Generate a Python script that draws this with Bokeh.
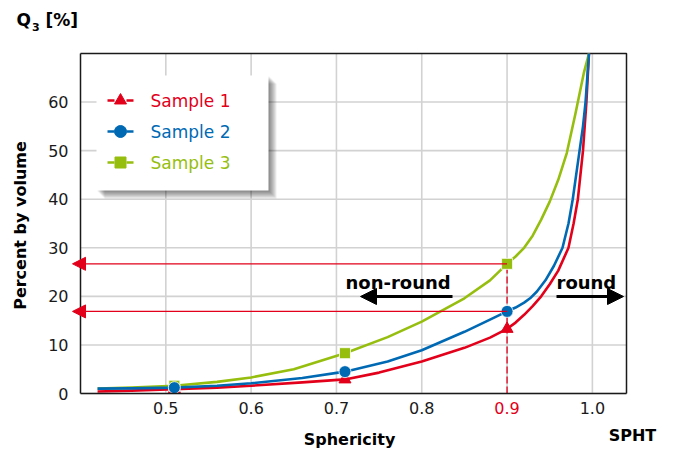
import math
from bokeh.plotting import figure
from bokeh.models import (Range1d, FixedTicker, Label, BoxAnnotation, Arrow, NormalHead, LinearAxis)
from bokeh.embed import file_html
from bokeh.resources import INLINE

# ---------------- data ----------------
x_ticks = [0.5, 0.6, 0.7, 0.8, 0.9, 1.0]
x_tick_labels = ["0.5", "0.6", "0.7", "0.8", "0.9", "1.0"]
y_ticks = [0, 10, 20, 30, 40, 50, 60]
y_tick_labels = ["0", "10", "20", "30", "40", "50", "60"]

s1_name = "Sample 1"
s1_x = [0.42, 0.46, 0.51, 0.56, 0.60, 0.66, 0.71, 0.75, 0.80, 0.85, 0.88, 0.90,
        0.91, 0.92, 0.93, 0.94, 0.95, 0.96, 0.972, 0.978, 0.983, 0.986, 0.989, 0.993, 0.996]
s1_y = [0.4, 0.6, 0.9, 1.2, 1.6, 2.3, 2.9, 4.3, 6.6, 9.4, 11.5, 13.3,
        14.6, 16.2, 18.0, 20.0, 22.5, 25.3, 30.0, 35.0, 40.0, 45.0, 50.0, 60.0, 70.0]

s2_name = "Sample 2"
s2_x = [0.42, 0.46, 0.51, 0.56, 0.60, 0.66, 0.71, 0.76, 0.80, 0.85, 0.88, 0.90,
        0.91, 0.92, 0.927, 0.935, 0.945, 0.955, 0.965, 0.972, 0.977, 0.981, 0.985, 0.989, 0.992, 0.996]
s2_y = [1.0, 1.05, 1.2, 1.6, 2.1, 3.2, 4.5, 6.6, 8.9, 12.7, 15.2, 16.9,
        17.7, 18.7, 19.6, 21.0, 23.3, 26.3, 30.0, 35.0, 40.0, 45.0, 50.0, 55.0, 60.0, 70.0]

s3_name = "Sample 3"
s3_x = [0.42, 0.46, 0.51, 0.56, 0.60, 0.65, 0.71, 0.76, 0.80, 0.85, 0.88, 0.90,
        0.91, 0.92, 0.93, 0.94, 0.95, 0.96, 0.97, 0.98, 0.99, 0.996]
s3_y = [1.0, 1.2, 1.6, 2.4, 3.3, 5.0, 8.3, 11.6, 14.8, 19.6, 23.3, 26.7,
        28.2, 30.0, 32.5, 35.8, 39.5, 44.0, 49.5, 57.5, 66.0, 70.0]

marker_x = [0.51, 0.71, 0.90]
s1_marker_y = [0.9, 2.9, 13.3]
s2_marker_y = [1.2, 4.5, 16.9]
s3_marker_y = [1.6, 8.3, 26.7]

read_x = 0.90               # highlighted sphericity
read_y = [26.7, 16.9]       # read-off values (Sample 3, Sample 2)

# ---------------- styling ----------------
RED = "#e2001a"
BLUE = "#0069b4"
GREEN = "#96be0e"
INK = "#1a1a1a"
FONT = "DejaVu Sans"
W, H = 673, 450

X0, X1 = 0.4, 1.04
Y0, Y1 = 0.0, 70.0
FL, FR, FT, FB = 80, 626, 53, 393   # plot area in pixels


def xd(px):
    return X0 + (px - FL) * (X1 - X0) / (FR - FL)


def yd(py):
    return Y0 + (FB - py) * (Y1 - Y0) / (FB - FT)


p = figure(width=W, height=H, output_backend="svg", toolbar_location=None,
           x_range=Range1d(xd(0), xd(W)), y_range=Range1d(yd(H), yd(0)),
           x_axis_location=None, y_axis_location=None,
           min_border=0, min_border_left=0, min_border_right=0,
           min_border_top=0, min_border_bottom=0)
p.background_fill_color = "white"
p.border_fill_color = "white"
p.outline_line_color = None
for g in p.grid:
    g.visible = False

xaxis = LinearAxis(fixed_location=Y0, bounds=(X0, X1), ticker=FixedTicker(ticks=x_ticks))
yaxis = LinearAxis(fixed_location=X0, bounds=(Y0, Y1), ticker=FixedTicker(ticks=y_ticks))
xaxis.major_label_overrides = {t: (l if t != read_x else "") for t, l in zip(x_ticks, x_tick_labels)}
yaxis.major_label_overrides = {t: l for t, l in zip(y_ticks, y_tick_labels)}
for ax in (xaxis, yaxis):
    ax.major_tick_out = 0
    ax.major_tick_in = 0
    ax.minor_tick_out = 0
    ax.minor_tick_in = 0
    ax.axis_line_color = INK
    ax.axis_line_width = 1.5
    ax.major_label_text_font = FONT
    ax.major_label_text_font_size = "16px"
    ax.major_label_text_color = INK
xaxis.major_label_standoff = 8
yaxis.major_label_standoff = 12
p.add_layout(xaxis, "below")
p.add_layout(yaxis, "left")

# grid lines and frame
p.segment(x0=x_ticks, y0=[Y0] * len(x_ticks), x1=x_ticks, y1=[Y1] * len(x_ticks),
          line_color="#d2d2d2", line_width=1.6, level="underlay")
p.segment(x0=[X0] * len(y_ticks), y0=y_ticks, x1=[X1] * len(y_ticks), y1=y_ticks,
          line_color="#d2d2d2", line_width=1.6, level="underlay")
p.line([X0, X1, X1], [Y1, Y1, Y0], line_color=INK, line_width=1.5)

# reading lines
p.line([read_x, read_x], [Y0, read_y[0]], line_color=RED, line_width=1.3, line_dash="7 3")
for ry in read_y:
    p.add_layout(Arrow(end=NormalHead(size=13, fill_color=RED, line_color=RED),
                       x_start=read_x, y_start=ry, x_end=xd(72), y_end=ry,
                       line_color=RED, line_width=1.2))

# curves
p.line(s1_x, s1_y, line_color=RED, line_width=2.6, line_join="round")
p.line(s3_x, s3_y, line_color=GREEN, line_width=2.6, line_join="round")
p.line(s2_x, s2_y, line_color=BLUE, line_width=2.6, line_join="round")
p.scatter(marker_x, s1_marker_y, marker="triangle", size=12, fill_color=RED, line_color=RED)
p.scatter(marker_x, s3_marker_y, marker="square", size=11, fill_color=GREEN, line_color="white", line_width=0.8)
p.scatter(marker_x, s2_marker_y, marker="circle", size=12, fill_color=BLUE, line_color="white", line_width=0.8)

# non-round / round annotations
p.add_layout(Label(x=xd(345), y=yd(282), text="non-round", text_font=FONT, text_font_style="bold",
                   text_font_size="18px", text_color="black", text_baseline="middle"))
p.add_layout(Arrow(end=NormalHead(size=16, fill_color="black", line_color="black"),
                   x_start=xd(452), y_start=yd(296), x_end=xd(360), y_end=yd(296),
                   line_color="black", line_width=3))
p.add_layout(Label(x=xd(556), y=yd(282), text="round", text_font=FONT, text_font_style="bold",
                   text_font_size="18px", text_color="black", text_baseline="middle"))
p.add_layout(Arrow(end=NormalHead(size=16, fill_color="black", line_color="black"),
                   x_start=xd(556), y_start=yd(296), x_end=xd(623), y_end=yd(296),
                   line_color="black", line_width=3))

# red tick label 0.9
p.add_layout(Label(x=read_x, y=yd(FB + 8), text="0.9", text_font=FONT, text_font_size="16px",
                   text_color=RED, text_align="center", text_baseline="top"))

# axis titles
p.add_layout(Label(x=xd(20), y=yd(225), text="Percent by volume", angle=math.pi / 2,
                   text_font=FONT, text_font_style="bold", text_font_size="16px",
                   text_align="center", text_baseline="middle", text_color="black"))
p.add_layout(Label(x=xd(349), y=yd(439), text="Sphericity", text_font=FONT, text_font_style="bold",
                   text_font_size="16px", text_align="center", text_baseline="middle", text_color="black"))
p.add_layout(Label(x=xd(632), y=yd(435), text="SPHT", text_font=FONT, text_font_style="bold",
                   text_font_size="16px", text_align="center", text_baseline="middle", text_color="black"))
p.add_layout(Label(x=xd(16), y=yd(19), text="Q", text_font=FONT, text_font_style="bold",
                   text_font_size="17px", text_baseline="middle", text_color="black"))
p.add_layout(Label(x=xd(31.5), y=yd(26), text="3", text_font=FONT, text_font_style="bold",
                   text_font_size="11px", text_baseline="middle", text_color="black"))
p.add_layout(Label(x=xd(45), y=yd(19), text="[%]", text_font=FONT, text_font_style="bold",
                   text_font_size="17px", text_baseline="middle", text_color="black"))

# legend box with shadow
LL, LR, LT, LB = 96, 268, 75, 190
for i in range(1, 9):
    p.add_layout(BoxAnnotation(left=xd(LL + i), right=xd(LR + i), top=yd(LT + i), bottom=yd(LB + i),
                               fill_color="black", fill_alpha=0.07, line_color=None))
p.add_layout(BoxAnnotation(left=xd(LL), right=xd(LR), top=yd(LT), bottom=yd(LB),
                           fill_color="white", fill_alpha=1.0, line_color=None))

legend_items = [(s1_name, RED, "triangle", 12), (s2_name, BLUE, "circle", 12), (s3_name, GREEN, "square", 11)]
for k, (name, col, mk, sz) in enumerate(legend_items):
    py = 100 + 31 * k
    p.line([xd(107), xd(133)], [yd(py), yd(py)], line_color=col, line_width=2.6, line_dash="7 12",
           level="overlay")
    p.scatter([xd(120)], [yd(py)], marker=mk, size=sz, fill_color=col, line_color=col, level="overlay")
    p.add_layout(Label(x=xd(150), y=yd(py), text=name, text_font=FONT, text_font_size="17px",
                       text_color=col, text_baseline="middle"))

open("out.html", "w").write(file_html(p, INLINE))
